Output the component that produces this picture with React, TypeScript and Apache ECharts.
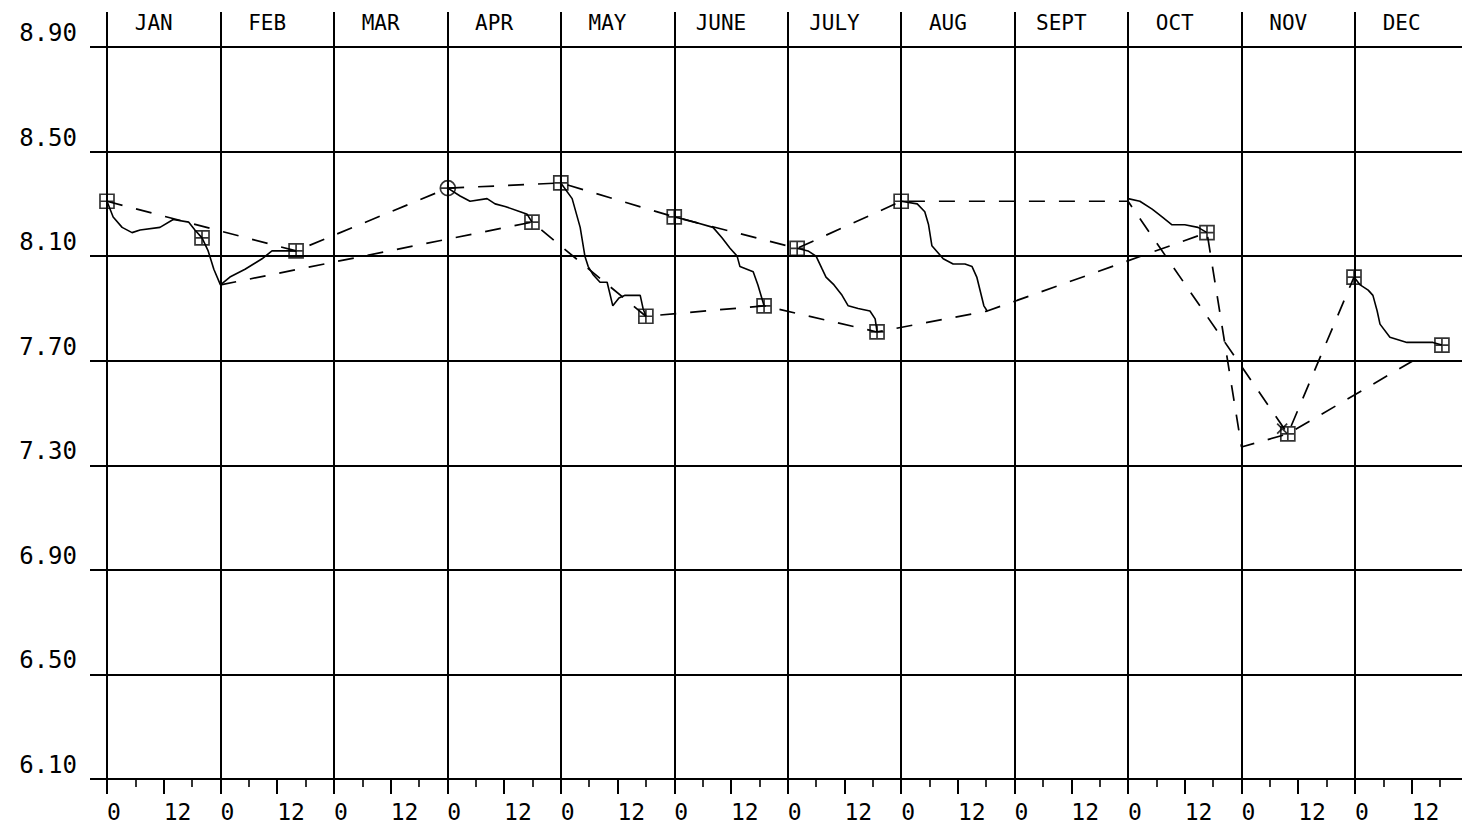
import React, { useEffect, useRef } from "react";
import * as echarts from "echarts";

// ---- axis definitions ----
const MONTHS = ["JAN", "FEB", "MAR", "APR", "MAY", "JUNE", "JULY", "AUG", "SEPT", "OCT", "NOV", "DEC"];
const UNITS_PER_MONTH = 24; // "0" and "12" tick labels inside every month
const X_MAX = MONTHS.length * UNITS_PER_MONTH;
const Y_MIN = 6.1;
const Y_MAX = 8.9;
const Y_STEP = 0.4;

// ---- data: [x in month-units, value] ----
const solidJanFeb = [
  [0, 8.31], [1.3, 8.25], [3.2, 8.21], [5.3, 8.19], [7.0, 8.2], [11.2, 8.21], [14.0, 8.24],
  [17.3, 8.23], [18.6, 8.2], [20.1, 8.17], [21.4, 8.12], [22.6, 8.05], [24.0, 7.99],
  [26.0, 8.02], [29.2, 8.05], [32.8, 8.09], [34.9, 8.12], [37.7, 8.12], [40.0, 8.12],
];
const solidApr = [
  [72.1, 8.36], [74.7, 8.33], [76.8, 8.31], [80.4, 8.32], [82.1, 8.3], [84.2, 8.29],
  [87.4, 8.27], [88.9, 8.26], [89.9, 8.23],
];
const solidMay = [
  [96.0, 8.38], [98.4, 8.32], [100.1, 8.21], [101.1, 8.1], [101.8, 8.06], [102.8, 8.03],
  [104.3, 8.0], [105.8, 8.0], [107.0, 7.91], [108.3, 7.94], [109.6, 7.95], [112.8, 7.95],
  [113.4, 7.9], [114.0, 7.87],
];
const solidJune = [
  [120.0, 8.25], [122.3, 8.24], [124.4, 8.23], [128.2, 8.21], [130.1, 8.17], [131.8, 8.13],
  [133.3, 8.1], [133.9, 8.06], [136.7, 8.04], [137.7, 7.99], [139.0, 7.91],
];
const solidJuly = [
  [146.0, 8.13], [148.3, 8.12], [150.0, 8.1], [151.3, 8.05], [152.1, 8.02], [153.8, 7.99],
  [155.5, 7.95], [156.8, 7.91], [158.9, 7.9], [161.4, 7.89], [162.5, 7.86], [162.9, 7.81],
];
const solidAug = [
  [168.0, 8.31], [171.4, 8.3], [173.0, 8.27], [173.8, 8.22], [174.5, 8.14], [176.9, 8.09],
  [179.0, 8.07], [181.5, 8.07], [183.0, 8.06], [184.0, 8.02], [185.5, 7.91], [186.2, 7.89],
];
const solidOct = [
  [216.0, 8.32], [218.5, 8.31], [221.1, 8.28], [223.2, 8.25], [225.3, 8.22], [228.0, 8.22],
  [230.8, 8.21], [232.7, 8.19],
];
const solidDec = [
  [263.8, 8.02], [265.1, 7.99], [266.8, 7.97], [267.8, 7.95], [268.7, 7.89], [269.3, 7.84],
  [271.4, 7.79], [275.0, 7.77], [277.7, 7.77], [280.5, 7.77], [282.4, 7.76],
];
const dashedUpper = [
  [0, 8.31], [40.0, 8.12], [72.1, 8.36], [96.0, 8.38], [120.0, 8.25], [146.0, 8.13],
  [168.0, 8.31], [216.0, 8.31], [249.8, 7.42], [263.8, 8.02],
];
const dashedLower = [
  [24.0, 7.99], [89.9, 8.23], [114.0, 7.87], [139.0, 7.91], [162.9, 7.81], [186.2, 7.89],
  [232.7, 8.19], [240.0, 7.37], [249.8, 7.42], [276.3, 7.7],
];
const squareMarks = [
  [0, 8.31], [20.1, 8.17], [40.0, 8.12], [89.9, 8.23], [96.0, 8.38], [114.0, 7.87],
  [120.0, 8.25], [139.0, 7.91], [146.0, 8.13], [162.9, 7.81], [168.0, 8.31], [232.7, 8.19],
  [249.8, 7.42], [263.8, 8.02], [282.4, 7.76],
];
const circleMarks = [[72.1, 8.36]];
const crossMarks = [[248.6, 7.44]];

const FONT = "DejaVu Sans Mono";
const INK = "#000";

const shiftY = (pts: number[][]) => pts.map(([x, y]) => [x, +(y - Y_MIN).toFixed(4)]);

const SQUARE = "path://M0 0H10V10H0Z M5 0V10 M0 5H10";
const CIRCLE = "path://M10 5A5 5 0 1 1 0 5A5 5 0 1 1 10 5Z M5 0V10 M0 5H10";
const CROSS = "path://M0 0L10 10M10 0L0 10";

export default function App() {
  const ref = useRef<HTMLDivElement>(null);

  useEffect(() => {
    if (!ref.current) return;
    const chart = echarts.init(ref.current, undefined, { renderer: "svg" });

    const solid = [solidJanFeb, solidApr, solidMay, solidJune, solidJuly, solidAug, solidOct, solidDec];
    const solidSeries = solid.map((seg) => ({
      type: "line",
      xAxisIndex: 0,
      yAxisIndex: 0,
      data: shiftY(seg),
      symbol: "none",
      lineStyle: { color: INK, width: 1.6 },
      z: 3,
    }));
    const dashedSeries = [dashedUpper, dashedLower].map((seg) => ({
      type: "line",
      xAxisIndex: 0,
      yAxisIndex: 0,
      data: shiftY(seg),
      symbol: "none",
      lineStyle: { color: INK, width: 1.7, type: [16, 14] },
      z: 3,
    }));
    const markStyle = { color: "rgba(0,0,0,0)", borderColor: INK, borderWidth: 1.7 };
    const markSeries = [
      { data: squareMarks, symbol: SQUARE, size: 14 },
      { data: circleMarks, symbol: CIRCLE, size: 15 },
      { data: crossMarks, symbol: CROSS, size: 10 },
    ].map((m) => ({
      type: "scatter",
      xAxisIndex: 0,
      yAxisIndex: 0,
      data: shiftY(m.data),
      symbol: m.symbol,
      symbolSize: m.size,
      itemStyle: markStyle,
      clip: false,
      z: 4,
    }));

    const blackLine = (w: number) => ({ color: INK, width: w });

    chart.setOption({
      animation: false,
      backgroundColor: "#fff",
      grid: {
        left: 107,
        top: 47,
        width: (X_MAX / UNITS_PER_MONTH) * 113.45,
        height: 732,
        containLabel: false,
        outerBoundsMode: "none",
      },
      xAxis: [
        {
          type: "value",
          position: "bottom",
          min: 0,
          max: X_MAX,
          interval: UNITS_PER_MONTH,
          axisLine: { show: true, lineStyle: blackLine(2) },
          axisTick: { show: false },
          axisLabel: { show: false },
          splitLine: { show: true, lineStyle: blackLine(2) },
        },
        {
          type: "value",
          position: "bottom",
          min: 0,
          max: X_MAX,
          interval: UNITS_PER_MONTH / 2,
          axisLine: { show: false },
          axisTick: { show: true, length: 15, lineStyle: blackLine(2) },
          axisLabel: {
            show: true,
            formatter: (v: number) =>
              v >= X_MAX ? "" : Math.round(v) % UNITS_PER_MONTH === 0 ? "0" : "12",
            align: "left",
            margin: 22,
            color: INK,
            fontFamily: FONT,
            fontSize: 23,
            lineHeight: 22,
          },
          splitLine: { show: false },
        },
        {
          type: "value",
          position: "bottom",
          min: 0,
          max: X_MAX,
          interval: UNITS_PER_MONTH / 4,
          axisLine: { show: false },
          axisTick: { show: true, length: 8, lineStyle: blackLine(1.6) },
          axisLabel: { show: false },
          splitLine: { show: false },
        },
        {
          type: "category",
          position: "top",
          data: MONTHS,
          boundaryGap: true,
          axisLine: { show: true, lineStyle: blackLine(2) },
          axisTick: { show: true, length: 35, lineStyle: blackLine(2) },
          axisLabel: {
            show: true,
            interval: 0,
            margin: 14,
            color: INK,
            fontFamily: FONT,
            fontSize: 21,
            padding: [0, 20, 0, 0],
          },
          splitLine: { show: false },
        },
      ],
      yAxis: {
        type: "value",
        min: 0,
        max: +(Y_MAX - Y_MIN).toFixed(4),
        interval: Y_STEP,
        axisLine: { show: true, lineStyle: blackLine(2) },
        axisTick: { show: true, length: 17, lineStyle: blackLine(2) },
        axisLabel: {
          formatter: (v: number) => (v + Y_MIN).toFixed(2),
          margin: 30,
          color: INK,
          fontFamily: FONT,
          fontSize: 24,
          verticalAlign: "bottom",
          padding: [0, 0, 2, 0],
        },
        splitLine: { show: true, lineStyle: blackLine(2) },
      },
      series: [...solidSeries, ...dashedSeries, ...markSeries],
    });

    return () => chart.dispose();
  }, []);

  return (
    <div
      ref={ref}
      style={{ position: "fixed", left: 0, top: 0, width: 1462, height: 827, background: "#fff" }}
    />
  );
}
